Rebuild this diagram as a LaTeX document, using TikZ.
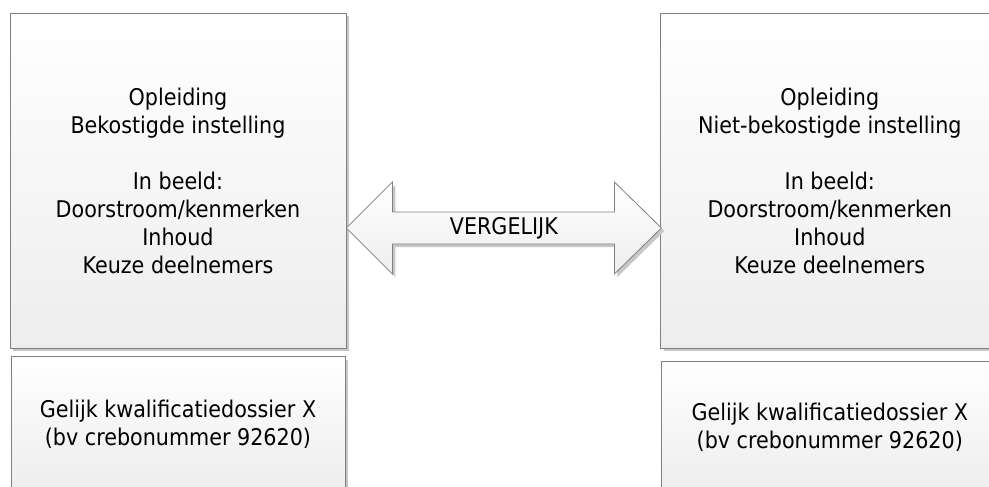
\documentclass[tikz,border=0pt]{standalone}
\usepackage{fontspec}
\setmainfont{DejaVu Sans Condensed}
\usetikzlibrary{positioning, shadows, calc}

\tikzset{
  box/.style={draw=black!50, line width=0.8pt, top color=white, bottom color=black!7,
    align=center, inner sep=0pt,
    drop shadow={shadow xshift=3pt, shadow yshift=-3pt, fill=black!22, opacity=1}},
  bigarrow/.style={draw=black!50, line width=0.8pt, top color=white, bottom color=black!7,
    drop shadow={shadow xshift=3pt, shadow yshift=-3pt, fill=black!22, opacity=1}}
}

\begin{document}
\begin{tikzpicture}[x=1pt, y=-1pt, font=\fontsize{23}{28}\selectfont]
\useasboundingbox (0,0) rectangle (989,487);

% boxes, left and right
\node[box, minimum width=336pt, minimum height=335pt] (lt) at (178,180.5)
  {Opleiding\\Bekostigde instelling\\[28pt]In beeld:\\Doorstroom/kenmerken\\Inhoud\\Keuze deelnemers};
\node[box, minimum width=334pt, minimum height=134pt] (lb) [below=8pt of lt]
  {Gelijk kwalificatiedossier X\\(bv crebonummer 92620)};
\node[box, minimum width=338pt, minimum height=335pt] (rt) [right=314pt of lt]
  {Opleiding\\Niet-bekostigde instelling\\[28pt]In beeld:\\Doorstroom/kenmerken\\Inhoud\\Keuze deelnemers};
\node[box, minimum width=336pt, minimum height=130pt] (rb) [below=13pt of rt]
  {Gelijk kwalificatiedossier X\\(bv crebonummer 92620)};

% double arrow between the boxes
\coordinate (al) at ($(lt.east)+(0,47.5)$);
\coordinate (ar) at ($(rt.west)+(1,47.5)$);
\path[bigarrow] (al) -- ++(46,-46) -- ++(0,30) -- ($(ar)+(-47,-16)$) -- ++(0,-30)
  -- (ar) -- ++(-47,46) -- ++(0,-30) -- ($(al)+(46,16)$) -- ++(0,30) -- cycle;
\node (vgl) at ($(al)!0.5!(ar)$) {VERGELIJK};
\end{tikzpicture}
\end{document}
